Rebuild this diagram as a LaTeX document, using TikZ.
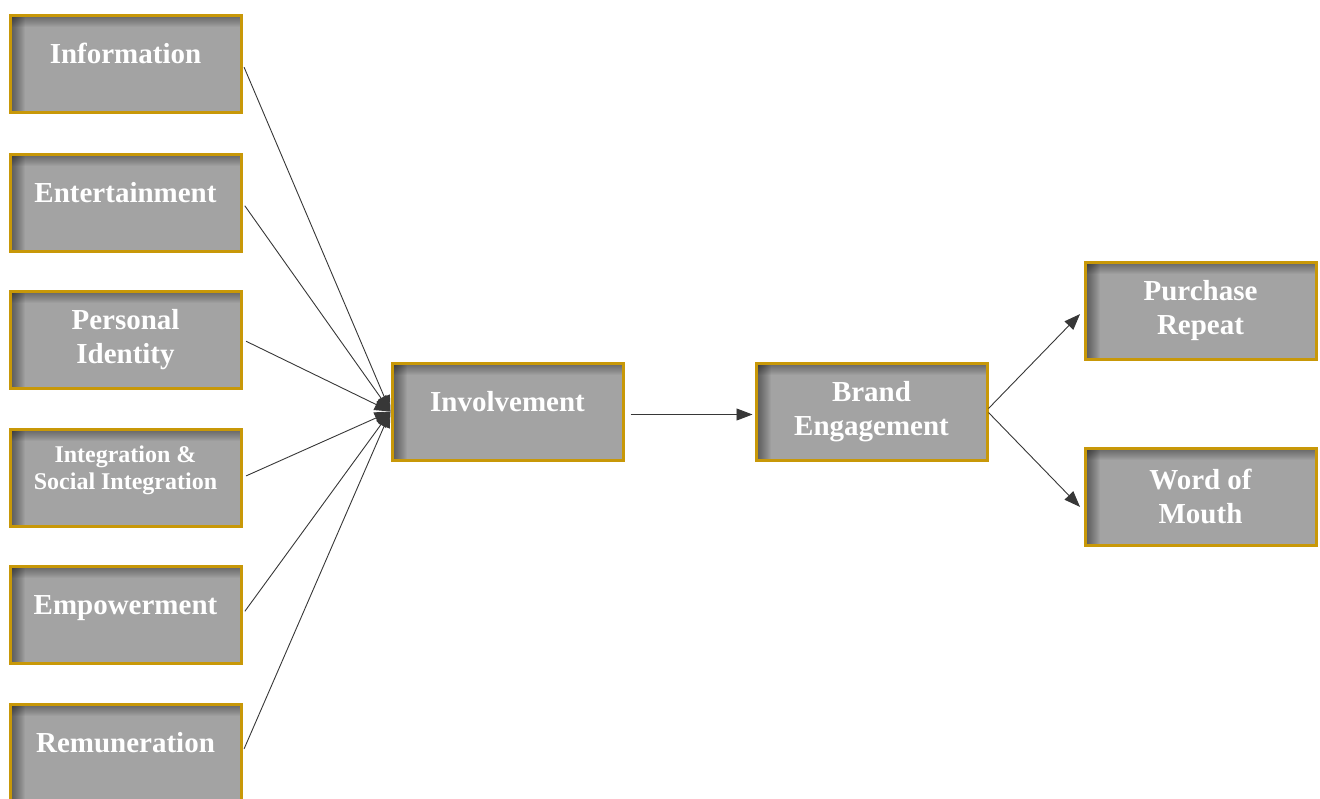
\documentclass[tikz,border=0pt]{standalone}
\usepackage{fontspec}
\setmainfont{Liberation Serif}
\usetikzlibrary{arrows.meta}

\definecolor{boxgray}{RGB}{163,163,163}
\definecolor{boxgold}{RGB}{200,152,8}
\definecolor{linegray}{RGB}{55,55,55}

\tikzset{
    factor/.style={draw=boxgold, line width=3pt, fill=boxgray,
        minimum width=231pt, minimum height=97pt, inner sep=0pt,
        text=white, align=center, font=\bfseries\fontsize{29}{34}\selectfont,
        path picture={
            % soft inner shadow along the top and left edges
            \foreach \d in {1,...,12}
                \fill[black, opacity=0.035]
                    (path picture bounding box.north west) rectangle
                    ([yshift=-\d pt]path picture bounding box.north east);
            \foreach \d in {1,...,15}
                \fill[black, opacity=0.035]
                    (path picture bounding box.south west) rectangle
                    ([xshift=\d pt]path picture bounding box.north west);
        }},
    oneline/.style={text height=20pt, text depth=21pt},
    link/.style={draw=linegray, line width=0.9pt,
        -{Triangle[length=16pt,width=12pt]}}
}

\begin{document}
\begin{tikzpicture}[x=1pt,y=-1pt]
    \useasboundingbox (0,0) rectangle (1320,798);

    % Gratification factors (left column)
    \node[factor, oneline] (info) at (125.5,63.5) {Information};
    \node[factor, oneline] (enter) at (125.5,202.5) {Entertainment};
    \node[factor] (ident) at (125.5,339.5) {Personal\\Identity};
    \node[factor, font=\bfseries\fontsize{24}{27}\selectfont, text depth=19pt] (integ) at (125.5,477.5) {Integration \&\\Social Integration};
    \node[factor, oneline] (empow) at (125.5,614.5) {Empowerment};
    \node[factor, oneline] (remun) at (125.5,752.5) {Remuneration};

    % Middle and outcome boxes
    \node[factor, oneline] (inv) at (507.5,411.5) {Involvement};
    \node[factor] (brand) at (871.5,411.5) {Brand\\Engagement};
    \node[factor] (purch) at (1200.5,310.5) {Purchase\\Repeat};
    \node[factor] (word) at (1200.5,496.5) {Word of\\Mouth};

    % Factors to involvement
    \draw[link, shorten <=4pt] (info.east) -- (inv.west);
    \draw[link, shorten <=4pt] (enter.east) -- (inv.west);
    \draw[link, shorten <=4pt] (ident.east) -- (inv.west);
    \draw[link, shorten <=4pt] (integ.east) -- (inv.west);
    \draw[link, shorten <=4pt] (empow.east) -- (inv.west);
    \draw[link, shorten <=4pt] (remun.east) -- (inv.west);

    % Involvement to engagement
    \draw[link, shorten <=6pt, shorten >=2pt] ([yshift=-3pt]inv.east) -- ([yshift=-3pt]brand.west);

    % Engagement to outcomes
    \draw[link, shorten >=5pt] ([yshift=3pt]brand.east) -- (purch.west);
    \draw[link, shorten >=5pt] ([yshift=-1pt]brand.east) -- ([yshift=-14pt]word.west);
\end{tikzpicture}
\end{document}
